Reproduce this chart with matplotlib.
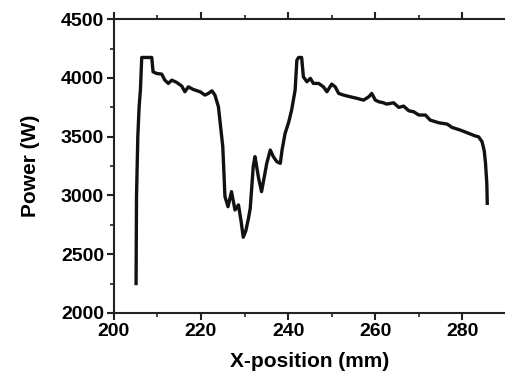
import numpy as np
import matplotlib.pyplot as plt

# traced power profile along the track
x_mm = [205.1, 205.2, 205.5, 205.8, 206.1, 206.4, 207.5, 208.7, 209.0, 209.8,
        211.0, 211.7, 212.5, 213.3, 214.4, 215.6, 216.3, 217.1, 218.2, 219.8,
        220.9, 221.7, 222.5, 223.2, 224.0, 225.0, 225.5, 226.2, 227.0, 227.8,
        228.6, 229.2, 229.7, 230.3, 230.9, 231.3, 232.0, 232.4, 233.2, 233.9,
        235.1, 235.9, 236.6, 237.4, 238.2, 238.6, 239.3, 240.1, 240.8, 241.6,
        242.0, 242.4, 243.1, 243.5, 244.3, 245.1, 245.8, 247.0, 248.1, 248.9,
        250.0, 250.8, 251.6, 252.7, 254.3, 255.8, 257.3, 258.5, 259.2, 260.0,
        260.8, 261.9, 262.6, 264.2, 265.4, 266.5, 267.7, 268.8, 270.0, 271.5,
        272.6, 274.6, 276.5, 277.6, 279.5, 281.1, 283.0, 283.7, 284.5, 285.0,
        285.3, 285.6, 285.7]
power_w = [2250, 2990, 3500, 3754, 3900, 4174, 4174, 4174, 4052, 4038,
           4032, 3981, 3953, 3981, 3962, 3930, 3882, 3924, 3902, 3882,
           3854, 3868, 3890, 3854, 3754, 3415, 2990, 2904, 3032, 2876,
           2919, 2780, 2644, 2700, 2806, 2890, 3250, 3330, 3150, 3032,
           3274, 3386, 3330, 3287, 3273, 3386, 3528, 3620, 3726, 3896,
           4150, 4174, 4174, 4009, 3967, 3996, 3953, 3953, 3924, 3882,
           3947, 3924, 3868, 3854, 3839, 3826, 3811, 3839, 3868, 3811,
           3797, 3788, 3777, 3788, 3749, 3760, 3720, 3712, 3684, 3684,
           3641, 3618, 3607, 3579, 3556, 3533, 3505, 3499, 3457, 3380,
           3273, 3100, 2933]

xticks = [200, 220, 240, 260, 280]
yticks = [2000, 2500, 3000, 3500, 4000, 4500]

plt.rcParams['font.family'] = ['Liberation Sans', 'DejaVu Sans']
plt.rcParams['font.weight'] = 'bold'

fig = plt.figure(figsize=(5.06, 3.83), dpi=100)
ax = fig.add_axes([0.225, 0.183, 0.775, 0.767])

ax.plot(x_mm, power_w, color='#111111', lw=2.4, solid_joinstyle='round')

ax.set_xlim(200, 290)
ax.set_ylim(2000, 4500)
ax.set_xticks(xticks)
ax.set_yticks(yticks)
ax.set_xticks(np.arange(210, 290, 20), minor=True)
ax.set_yticks(np.arange(2250, 4500, 500), minor=True)

ax.spines['right'].set_visible(False)
for s in ['left', 'bottom', 'top']:
    ax.spines[s].set_linewidth(1.5)
    ax.spines[s].set_color('#222222')

ax.tick_params(which='major', direction='out', length=5, width=1.5,
               top=True, labelsize=14, color='#222222', pad=2)
ax.tick_params(which='minor', direction='out', length=3, width=1.2,
               top=True, color='#222222')
for lab in ax.get_xticklabels() + ax.get_yticklabels():
    lab.set_fontweight('bold')

ax.set_xlabel('X-position (mm)', fontsize=15, fontweight='bold', labelpad=9)
ax.set_ylabel('Power (W)', fontsize=15, fontweight='bold', labelpad=15)

fig.savefig('out.png', dpi=100)
